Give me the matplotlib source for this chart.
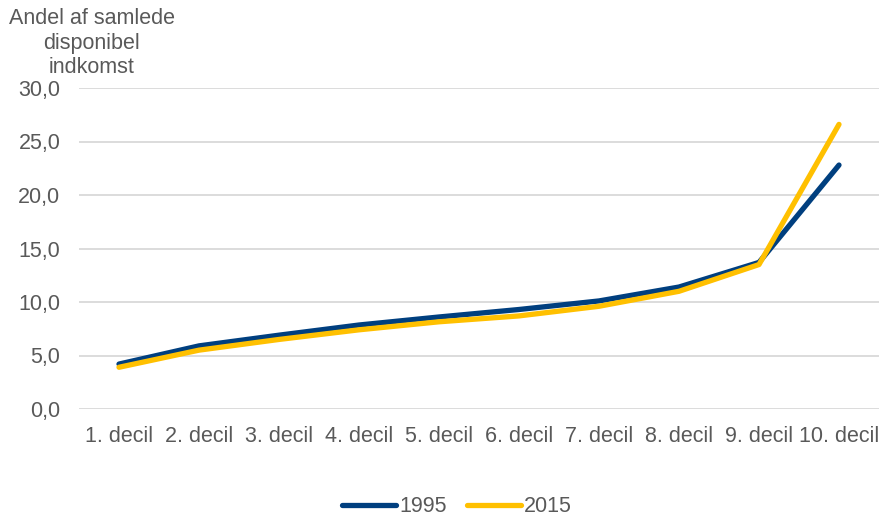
import matplotlib.pyplot as plt
from matplotlib.ticker import FuncFormatter

plt.rcParams['font.family'] = ['Liberation Sans', 'DejaVu Sans']

deciles = ["1. decil", "2. decil", "3. decil", "4. decil", "5. decil",
           "6. decil", "7. decil", "8. decil", "9. decil", "10. decil"]
share_1995 = [4.2, 5.9, 6.9, 7.85, 8.6, 9.3, 10.1, 11.4, 13.7, 22.8]
share_2015 = [3.9, 5.5, 6.5, 7.4, 8.15, 8.7, 9.6, 11.0, 13.5, 26.6]

gray = "#595959"
fs = 15.5

fig = plt.figure(figsize=(8.8, 5.16), dpi=100)
ax = fig.add_axes([79 / 880, 1 - 409 / 516, 800 / 880, (409 - 88) / 516])

x = range(len(deciles))
ax.plot(x, share_1995, color="#003f7f", lw=3.8, solid_capstyle="round", label="1995")
ax.plot(x, share_2015, color="#ffc000", lw=3.8, solid_capstyle="round", label="2015")

ax.set_xlim(-0.5, len(deciles) - 0.5)
ax.set_ylim(0, 30)
ax.set_yticks([0, 5, 10, 15, 20, 25, 30])
ax.yaxis.set_major_formatter(FuncFormatter(lambda v, p: f"{v:.1f}".replace(".", ",")))
ax.set_xticks(list(x))
ax.set_xticklabels(deciles)
ax.tick_params(axis="both", length=0, labelsize=fs, colors=gray)
ax.tick_params(axis="x", pad=12)
ax.tick_params(axis="y", pad=13.5)
ax.grid(axis="y", color="#d9d9d9", lw=1.3)
ax.set_axisbelow(True)
for s in ax.spines.values():
    s.set_visible(False)

fig.text(92 / 880, 1 - 43 / 516, "Andel af samlede\ndisponibel\nindkomst",
         ha="center", va="center", fontsize=fs, color=gray, linespacing=1.22)

fig.legend(loc="center", bbox_to_anchor=(457 / 880, 1 - 507 / 516), ncol=2, frameon=False,
           fontsize=fs, labelcolor=gray, handlelength=2.5, handletextpad=0.15,
           columnspacing=0.95)

fig.savefig("out.png", dpi=100)
